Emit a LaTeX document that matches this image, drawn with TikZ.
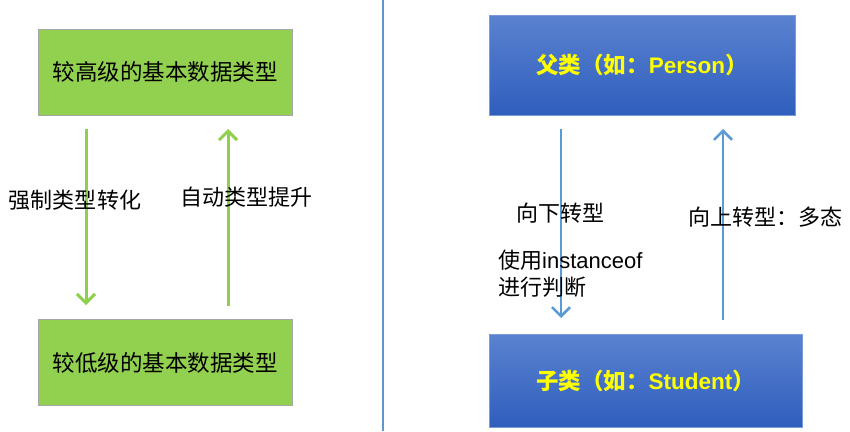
\documentclass[tikz,border=0pt]{standalone}
\usepackage{fontspec}
\setmainfont{Liberation Sans}
\newfontfamily\cjk{Noto Sans CJK SC}
\usetikzlibrary{arrows.meta}
\definecolor{boxgreen}{HTML}{92D050}
\definecolor{arrgreen}{HTML}{8FCF4C}
\definecolor{arrblue}{HTML}{5B9BD5}
\definecolor{bluetop}{HTML}{5A82D0}
\definecolor{bluebot}{HTML}{2F5EBD}
\definecolor{txtyellow}{HTML}{FFFF00}
\tikzset{
  greenbox/.style={draw=gray!70, line width=0.8pt, fill=boxgreen, minimum width=254pt, minimum height=86pt, inner sep=0pt, font=\fontsize{22.5}{26}\selectfont\cjk},
  bluebox/.style={draw=bluetop!80, line width=0.6pt, top color=bluetop, bottom color=bluebot, inner sep=0pt, text=txtyellow, font=\fontsize{22.5}{26}\selectfont\bfseries},
  garrow/.style={draw=arrgreen, line width=3pt, -{Straight Barb[length=9pt,width=18pt,line width=3pt]}},
  barrow/.style={draw=arrblue, line width=2.6pt, -{Straight Barb[length=9pt,width=18pt,line width=2.6pt]}},
  lbl/.style={inner sep=0pt, font=\fontsize{22}{26}\selectfont\cjk},
  divider/.style={draw=arrblue!85!gray, line width=1.2pt}
}
\begin{document}
\begin{tikzpicture}[x=1pt,y=-1pt]
\useasboundingbox (0,0) rectangle (850,431);
\fill[white] (0,0) rectangle (850,431);
% divider
\coordinate (dtop) at (383,0);
\coordinate (dbot) at (383,431);
\draw[divider] (dtop) -- (dbot);
% left side
\node[greenbox] (hi) at (165,72) {较高级的基本数据类型};
\node[greenbox] (lo) at (165,362.5) {较低级的基本数据类型};
\coordinate (d1s) at (86,129);
\coordinate (d1e) at (86,305);
\coordinate (u1s) at (228,306);
\coordinate (u1e) at (228,129);
\draw[garrow] (d1s) -- (d1e);
\draw[garrow] (u1s) -- (u1e);
\node[lbl] (lcast) at (75,200) {强制类型转化};
\node[lbl] (lauto) at (246,197) {自动类型提升};
% right side
\node[bluebox, minimum width=306pt, minimum height=100pt] (parent) at (642,65) {{\cjk 父类（如：}Person{\cjk ）}};
\node[bluebox, minimum width=313pt, minimum height=93pt] (child) at (645.5,380.5) {{\cjk 子类（如：}Student{\cjk ）}};
\coordinate (d2s) at (561,129);
\coordinate (d2e) at (561,318);
\coordinate (u2s) at (723,320);
\coordinate (u2e) at (723,129);
\draw[barrow] (d2s) -- (d2e);
\draw[barrow] (u2s) -- (u2e);
\node[lbl] (ldown) at (560.5,213) {向下转型};
\node[lbl] (lup) at (765.5,217) {向上转型：多态};
\node[lbl, anchor=west, align=left, font=\fontsize{22}{27}\selectfont] (linst) at (498,273.5) {{\cjk 使用}instanceof\\{\cjk 进行判断}};
\end{tikzpicture}
\end{document}
